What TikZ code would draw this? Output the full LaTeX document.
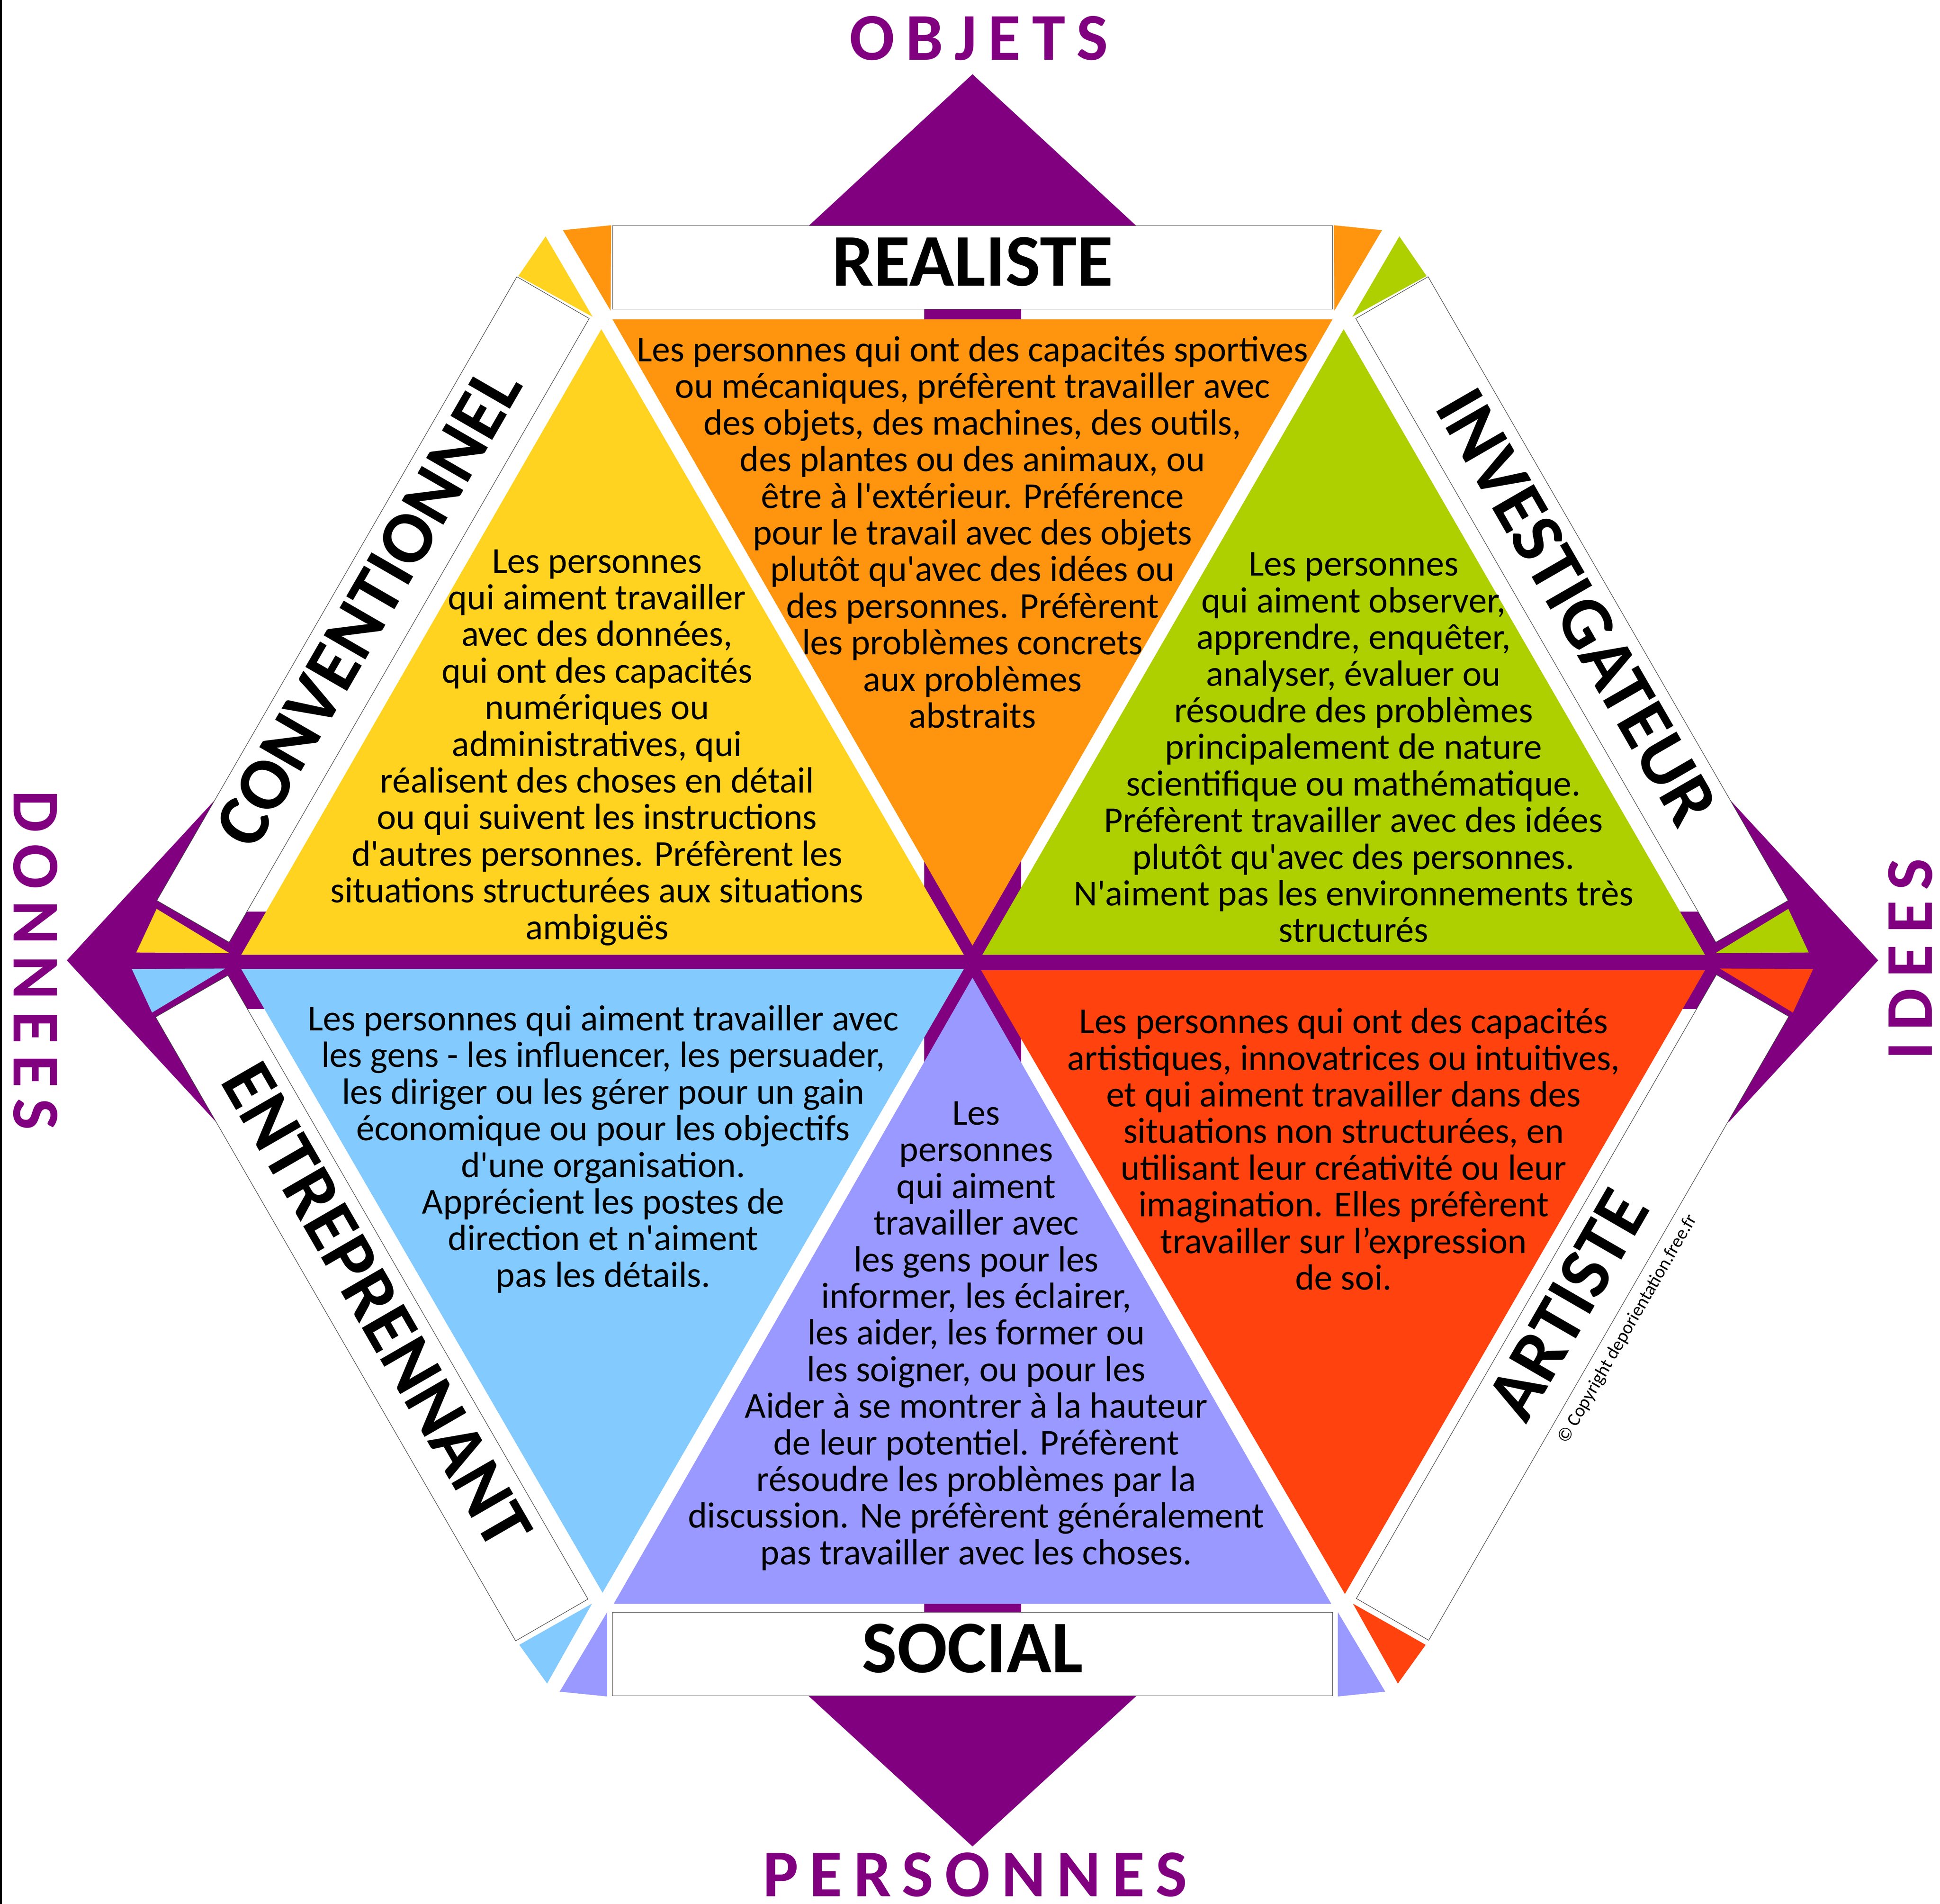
\documentclass[tikz,border=0pt]{standalone}
\usepackage{fontspec}
\setmainfont{Carlito}[Ligatures=TeXOff]
\newfontfamily\axisfont{Carlito}[LetterSpace=17.0]
\definecolor{cOrange}{HTML}{FF950E}
\definecolor{cYellow}{HTML}{FFD320}
\definecolor{cGreen}{HTML}{AECF00}
\definecolor{cBlue}{HTML}{83CAFF}
\definecolor{cLav}{HTML}{9999FF}
\definecolor{cRed}{HTML}{FF420E}
\definecolor{cPurple}{HTML}{800080}
\begin{document}
\begin{tikzpicture}[x=1pt,y=-1pt,
  lbox/.style={draw=black!75, line width=0.4pt, fill=white, minimum width=582pt, minimum height=67.5pt, inner sep=0pt, font=\fontsize{60}{60}\selectfont\bfseries, text height=38pt, text depth=8pt},
  body/.style={align=center, font=\fontsize{29.5}{29.6}\selectfont, inner sep=0pt},
  axis/.style={text=cPurple, font=\axisfont\fontsize{54}{54}\selectfont\bfseries, inner sep=0pt}]
\fill[white] (0,0) rectangle (1568,1538.5);
\useasboundingbox (0,0) rectangle (1568,1538.5);
\fill[black] (0,0) rectangle (1.5,1538.5);
% purple double arrows
\fill[cPurple] (54,776) -- (175,645) -- (175,907) -- cycle;
\fill[cPurple] (1518,776) -- (1397,645) -- (1397,907) -- cycle;
\fill[cPurple] (120,736.5) rectangle (1452,815.5);
\fill[cPurple] (786,60) -- (652,184) -- (920,184) -- cycle;
\fill[cPurple] (786,1492) -- (652,1369) -- (920,1369) -- cycle;
\fill[cPurple] (747,120) rectangle (825.5,1430);
% main triangles
\fill[cOrange] (495,258) -- (1077,258) -- (786,764) -- cycle;
\fill[cYellow] (486,266) -- (779,771.5) -- (195,771.5) -- cycle;
\fill[cGreen] (1086,266) -- (1378,771.5) -- (794,771.5) -- cycle;
\fill[cBlue] (195,783) -- (779,783) -- (487,1287) -- cycle;
\fill[cRed] (793,784) -- (1378,784) -- (1087,1288) -- cycle;
\fill[cLav] (786,790) -- (1076,1296) -- (496,1296) -- cycle;
% corner ears
\fill[cOrange] (455,186) -- (494,182) -- (493.5,251) -- cycle;
\fill[cOrange] (1117,186) -- (1078,182) -- (1078.5,251) -- cycle;
\fill[cYellow] (441,191) -- (419,223) -- (479,256) -- cycle;
\fill[cGreen] (1131,191) -- (1153,223) -- (1093,256) -- cycle;
\fill[cYellow] (126.6,734.4) -- (110.1,769.7) -- (185.5,770.2) -- cycle;
\fill[cBlue] (106.6,783.1) -- (122.9,818.2) -- (182,782.6) -- cycle;
\fill[cGreen] (1445.4,734.4) -- (1461.9,769.7) -- (1386.5,770.2) -- cycle;
\fill[cRed] (1465.4,783.1) -- (1449.1,818.2) -- (1390,782.6) -- cycle;
\fill[cBlue] (478.5,1295.8) -- (442.2,1360.4) -- (419.7,1329.1) -- cycle;
\fill[cRed] (1093.5,1295.8) -- (1129.8,1360.4) -- (1152.3,1329.1) -- cycle;
\fill[cLav] (490.7,1302.7) -- (490.7,1370.8) -- (452.4,1366.9) -- cycle;
\fill[cLav] (1081.3,1302.7) -- (1081.3,1370.8) -- (1119.6,1366.9) -- cycle;
% label boxes
\node[lbox] (realiste) at (786,216) {REALISTE};
\node[lbox] (social) at (786,1336.5) {SOCIAL};
\node[lbox, rotate=60] (conv) at (301.5,492.5) {CONVENTIONNEL};
\node[lbox, rotate=-60] (inv) at (1270.5,492.5) {INVESTIGATEUR};
\node[lbox, rotate=-60] (entr) at (300.5,1057) {ENTREPRENNANT};
\node[lbox, rotate=60] (art) at (1271,1056.5) {ARTISTE};
\node[font=\fontsize{15}{15}\selectfont, rotate=60, inner sep=0pt] (copy) at (1315.6,1074) {© Copyright deporientation.free.fr};
% axis labels
\node[axis] (objets) at (791,31) {OBJETS};
\node[axis] (personnes) at (788,1515) {PERSONNES};
\node[axis, rotate=-90] (donnees) at (28.5,776) {DONNEES};
\node[axis, rotate=90] (idees) at (1544,775) {IDEES};
% body texts
\node[body] (torange) at (786,430) {Les personnes qui ont des capacités sportives\\ou mécaniques, préfèrent travailler avec\\des objets, des machines, des outils,\\des plantes ou des animaux, ou\\être à l'extérieur. Préférence\\pour le travail avec des objets\\plutôt qu'avec des idées ou\\des personnes. Préfèrent\\les problèmes concrets\\aux problèmes\\abstraits};
\node[body] (tyellow) at (482.5,604) {Les personnes\\qui aiment travailler\\avec des données,\\qui ont des capacités\\numériques ou\\administratives, qui\\réalisent des choses en détail\\ou qui suivent les instructions\\d'autres personnes. Préfèrent les\\situations structurées aux situations\\ambiguës};
\node[body] (tgreen) at (1094,604) {Les personnes\\qui aiment observer,\\apprendre, enquêter,\\analyser, évaluer ou\\résoudre des problèmes\\principalement de nature\\scientifique ou mathématique.\\Préfèrent travailler avec des idées\\plutôt qu'avec des personnes.\\N'aiment pas les environnements très\\structurés};
\node[body] (tblue) at (487.5,928.5) {Les personnes qui aiment travailler avec\\les gens - les influencer, les persuader,\\les diriger ou les gérer pour un gain\\économique ou pour les objectifs\\d'une organisation.\\Apprécient les postes de\\direction et n'aiment\\pas les détails.};
\node[body] (tred) at (1086,928.5) {Les personnes qui ont des capacités\\artistiques, innovatrices ou intuitives,\\et qui aiment travailler dans des\\situations non structurées, en\\utilisant leur créativité ou leur\\imagination. Elles préfèrent\\travailler sur l’expression\\de soi.};
\node[body] (tlav) at (789,1079.5) {Les\\personnes\\qui aiment\\travailler avec\\les gens pour les\\informer, les éclairer,\\les aider, les former ou\\les soigner, ou pour les\\Aider à se montrer à la hauteur\\de leur potentiel. Préfèrent\\résoudre les problèmes par la\\discussion. Ne préfèrent généralement\\pas travailler avec les choses.};
\end{tikzpicture}
\end{document}
